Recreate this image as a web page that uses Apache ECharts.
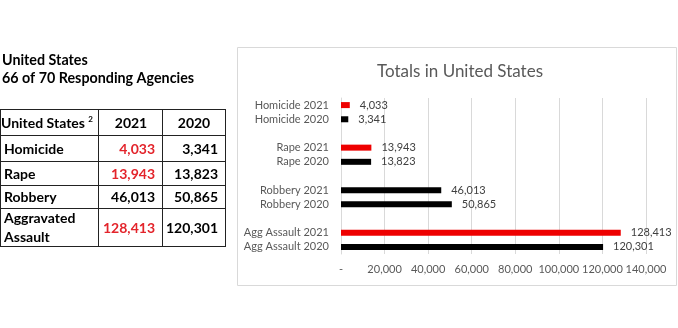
<!DOCTYPE html>
<html>
<head>
<meta charset="utf-8">
<script src="https://cdn.jsdelivr.net/npm/echarts@6/dist/echarts.min.js"></script>
<style>
html,body{margin:0;padding:0;background:#fff;}
#c{width:678px;height:328px;}
</style>
</head>
<body>
<div id="c"></div>
<script>
// ---- data ----
const crimes = ['Homicide', 'Rape', 'Robbery', 'Agg Assault'];
const tableCrimes = ['Homicide', 'Rape', 'Robbery', 'Aggravated\nAssault'];
const years = ['2021', '2020'];
const values2021 = [4033, 13943, 46013, 128413];
const values2020 = [3341, 13823, 50865, 120301];
const xTicks = [0, 20000, 40000, 60000, 80000, 100000, 120000, 140000];
const pageTitle = ['United States', '66 of 70 Responding Agencies'];
const chartTitle = 'Totals in United States';
const tableHeader = 'United States ';

const RED = '#ee0000';
const TRED = '#e3242b';
const fmt = v => v.toLocaleString('en-US');

// build categories with blank spacer slots between groups
const cats = [];
const barData = [];
crimes.forEach((c, i) => {
  if (i > 0) { cats.push(' '.repeat(i)); barData.push(null); }
  const up = values2021[i] > values2020[i];
  cats.push(c + ' ' + years[0]);
  barData.push({ value: values2021[i], itemStyle: { color: up ? RED : '#000' } });
  cats.push(c + ' ' + years[1]);
  barData.push({ value: values2020[i], itemStyle: { color: '#000' } });
});

// ---- table graphics ----
const FONT = 'Lato, Carlito, Calibri, sans-serif';
const g = [];
const colX = [0, 98, 162, 225];
const rowY = [109, 135, 161, 185, 208, 246];
const LINE = '#222';
rowY.forEach(y => g.push({ type: 'line', shape: { x1: 0, y1: y + 0.5, x2: colX[3] + 0.5, y2: y + 0.5 }, style: { stroke: LINE, lineWidth: 1 } }));
colX.forEach(x => g.push({ type: 'line', shape: { x1: x + 0.5, y1: rowY[0], x2: x + 0.5, y2: rowY[5] + 1 }, style: { stroke: LINE, lineWidth: 1 } }));

g.push({ type: 'text', x: 2, y: 60, style: { text: pageTitle[0], font: 'bold 14.3px ' + FONT, fill: '#000', verticalAlign: 'middle' } });
g.push({ type: 'text', x: 2, y: 78, style: { text: pageTitle[1], font: 'bold 14.3px ' + FONT, fill: '#000', verticalAlign: 'middle' } });

// header row
g.push({ type: 'text', x: 1, y: 123, style: {
  text: '{a|' + tableHeader + '}{s|2}', verticalAlign: 'middle',
  rich: { a: { font: 'bold 14px ' + FONT, fill: '#000' }, s: { font: 'bold 8px ' + FONT, fill: '#000', verticalAlign: 'top', padding: [0, 0, 7, 0] } }
} });
g.push({ type: 'text', x: 131, y: 123, style: { text: years[0], font: 'bold 14px ' + FONT, fill: '#000', align: 'center', verticalAlign: 'middle' } });
g.push({ type: 'text', x: 194, y: 123, style: { text: years[1], font: 'bold 14px ' + FONT, fill: '#000', align: 'center', verticalAlign: 'middle' } });

tableCrimes.forEach((c, i) => {
  const yc = (rowY[i + 1] + rowY[i + 2]) / 2 + 1;
  const up = values2021[i] > values2020[i];
  g.push({ type: 'text', x: 4, y: yc, style: { text: c, font: 'bold 14px ' + FONT, fill: '#000', verticalAlign: 'middle', lineHeight: 19 } });
  g.push({ type: 'text', x: 155, y: yc, style: { text: fmt(values2021[i]), font: 'bold 14px ' + FONT, fill: up ? TRED : '#000', align: 'right', verticalAlign: 'middle' } });
  g.push({ type: 'text', x: 218, y: yc, style: { text: fmt(values2020[i]), font: 'bold 14px ' + FONT, fill: '#000', align: 'right', verticalAlign: 'middle' } });
});

// chart panel
g.push({ type: 'rect', shape: { x: 237.5, y: 47.5, width: 439, height: 238 }, style: { fill: 'none', stroke: '#d9d9d9', lineWidth: 1 }, z: -1 });
g.push({ type: 'text', x: 460, y: 72, style: { text: chartTitle, font: '17px ' + FONT, fill: '#595959', align: 'center', verticalAlign: 'middle' } });

const chart = echarts.init(document.getElementById('c'), null, { renderer: 'canvas' });
chart.setOption({
  animation: false,
  textStyle: { fontFamily: FONT },
  graphic: g,
  grid: { left: 341, right: 32, top: 98, bottom: 74, containLabel: false },
  xAxis: {
    type: 'value', min: xTicks[0], max: xTicks[xTicks.length - 1], interval: xTicks[1] - xTicks[0],
    axisLine: { show: false }, axisTick: { show: false },
    splitLine: { show: true, lineStyle: { color: '#d9d9d9', width: 1 } },
    axisLabel: { color: '#595959', fontSize: 11, fontFamily: FONT, margin: 10,
      formatter: v => v === 0 ? '-' : fmt(v) }
  },
  yAxis: {
    type: 'category', inverse: true, data: cats,
    axisLine: { show: true, lineStyle: { color: '#d9d9d9' } }, axisTick: { show: false },
    axisLabel: { color: '#595959', fontSize: 11, fontFamily: FONT, margin: 12, interval: 0 }
  },
  series: [{
    type: 'bar', data: barData, barWidth: 6,
    label: { show: true, position: 'right', distance: 10, color: '#404040', fontSize: 11, fontFamily: FONT,
      formatter: p => (p.value == null ? '' : fmt(p.value)) }
  }]
});
</script>
</body>
</html>
